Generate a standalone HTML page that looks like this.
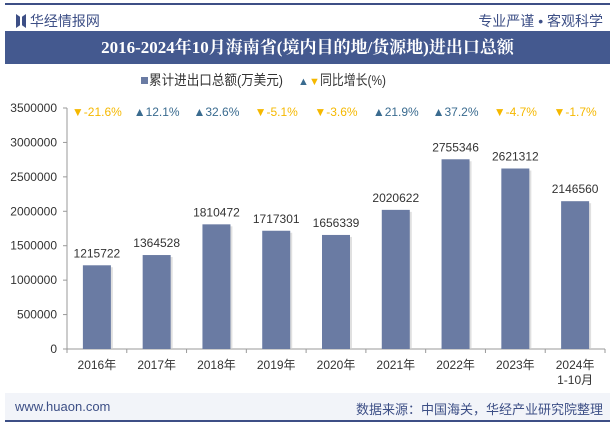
<!DOCTYPE html>
<html><head><meta charset="utf-8"><style>
body{margin:0;width:615px;height:427px;background:#fff;font-family:"Liberation Sans","Noto Sans CJK SC",sans-serif;overflow:hidden;position:relative}
.abs{position:absolute}
</style></head><body>
<div class="abs" style="left:5px;top:3px;width:605px;height:2px;background:#3d4f86"></div>
<div class="abs" style="left:16px;top:11px;font-size:14px;color:#3d4f86">
<span style="display:inline-block;width:10px;height:14px;background:#3d4f86;vertical-align:-2px;clip-path:polygon(0 0,40% 20%,40% 80%,0 100%,0 0,100% 0,100% 100%,60% 80%,60% 20%,100% 0)"></span> 华经情报网</div>
<div class="abs" style="right:12px;top:11px;font-size:14px;color:#3d4f86">专业严谨 • 客观科学</div>
<div class="abs" style="left:5px;top:31px;width:605px;height:33px;background:#44598f;color:#fff;font-family:'Liberation Serif','Noto Serif CJK SC',serif;font-weight:bold;font-size:17px;line-height:33px;text-align:center">2016-2024年10月海南省(境内目的地/货源地)进出口总额</div>
<svg class="abs" style="left:0;top:0" width="615" height="427" id="chart"></svg>
<div class="abs" style="left:5px;top:393px;width:605px;height:27px;background:#f2f4f9"></div>
<div class="abs" style="left:15px;top:399px;font-size:13px;color:#3d4f86">www.huaon.com</div>
<div class="abs" style="right:12px;top:399px;font-size:13px;color:#3d4f86">数据来源：中国海关，华经产业研究院整理</div>
<div class="abs" style="left:5px;top:420px;width:605px;height:2px;background:#3d4f86"></div>
<script>
const categories=['2016年','2017年','2018年','2019年','2020年','2021年','2022年','2023年','2024年|1-10月'];
const totals=[1215722,1364528,1810472,1717301,1656339,2020622,2755346,2621312,2146560];
const growth=[-21.6,12.1,32.6,-5.1,-3.6,21.9,37.2,-4.7,-1.7];
const yTicks=[0,500000,1000000,1500000,2000000,2500000,3000000,3500000];
const svg=document.getElementById('chart');const NS='http://www.w3.org/2000/svg';
const x0=67,x1=605,y0=349,yTop=108,yMax=3500000;
const step=(x1-x0)/categories.length;
const X=i=>x0+step*(i+0.5);
const Y=v=>y0-(y0-yTop)*v/yMax;
function el(t,a,txt){const e=document.createElementNS(NS,t);for(const k in a)e.setAttribute(k,a[k]);if(txt!=null)e.textContent=txt;svg.appendChild(e);return e;}
let g=el('rect',{x:141,y:77,width:7,height:7,fill:'#6a7ba3'});

g=el('text',{x:149,y:85,'font-size':14,fill:'#333',textLength:134,lengthAdjust:'spacingAndGlyphs'},'累计进出口总额(万美元)');

g=el('text',{x:298,y:85,'font-size':11,fill:'#3a6b8f'},'▲');

g=el('text',{x:309,y:85,'font-size':11,fill:'#f5b800'},'▼');

g=el('text',{x:320,y:85,'font-size':14,fill:'#333',textLength:66,lengthAdjust:'spacingAndGlyphs'},'同比增长(%)');

g=el('line',{x1:x0,y1:yTop,x2:x0,y2:y0,stroke:'#999'});

g=el('line',{x1:x0,y1:y0,x2:x1,y2:y0,stroke:'#999'});

yTicks.forEach(v=>{
 const t=el('line',{x1:x0-4,y1:Y(v),x2:x0,y2:Y(v),stroke:'#999'});
 
 const l=el('text',{x:x0-10,y:Y(v)+4,'font-size':12,'text-anchor':'end',fill:'#333'},String(v));
 
});
for(let i=0;i<=categories.length;i++){
 const t=el('line',{x1:x0+step*i,y1:y0,x2:x0+step*i,y2:y0+4,stroke:'#999'});
 
}
categories.forEach((c,i)=>{
 c.split('|').forEach((p,j)=>{
  const t=el('text',{x:X(i),y:y0+20+j*15,'font-size':12,'text-anchor':'middle',fill:'#333'},p);
  
 });
});
totals.forEach((v,i)=>{
 const s=el('rect',{x:X(i)-12,y:Y(v)+2,width:28,height:y0-Y(v)-2,fill:'#ccc',opacity:0.6});
 
 const b=el('rect',{x:X(i)-14,y:Y(v),width:28,height:y0-Y(v),fill:'#6a7ba3'});
 
 const l=el('text',{x:X(i),y:Y(v)-8,'font-size':12,'text-anchor':'middle',fill:'#333'},String(v));
 
});
growth.forEach((v,i)=>{
 const up=v>=0;
 const t=el('text',{x:X(i),y:116,'font-size':12,'text-anchor':'middle',fill:up?'#3a6b8f':'#f5b800'},(up?'▲':'▼')+v.toFixed(1)+'%');
 
});
</script>
</body></html>
